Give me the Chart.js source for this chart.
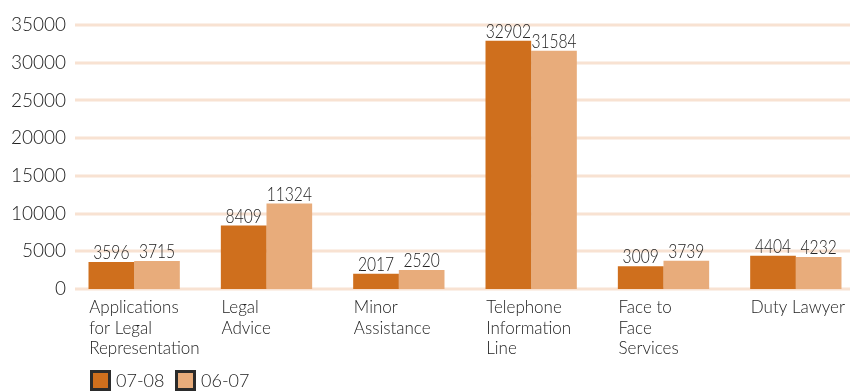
<!DOCTYPE html>
<html>
<head>
<meta charset="utf-8">
<script src="https://cdn.jsdelivr.net/npm/chart.js@4/dist/chart.umd.min.js"></script>
<style>
  html, body { margin: 0; padding: 0; background: #fff; overflow: hidden; }
  #wrap { position: relative; width: 850px; height: 392px; overflow: hidden; }
  canvas { display: block; }
</style>
</head>
<body>
<div id="wrap"><canvas id="servicesChart" width="862" height="392"></canvas></div>
<script>
const categories = [
  ['Applications', 'for Legal', 'Representation'],
  ['Legal', 'Advice'],
  ['Minor', 'Assistance'],
  ['Telephone', 'Information', 'Line'],
  ['Face to', 'Face', 'Services'],
  ['Duty Lawyer']
];
const series0708 = [3596, 8409, 2017, 32902, 3009, 4404];
const series0607 = [3715, 11324, 2520, 31584, 3739, 4232];
const yTicks = [0, 5000, 10000, 15000, 20000, 25000, 30000, 35000];

const textColor = '#222222';
const gridColor = '#f8e2d2';

// peach horizontal rules, starting a little right of the axis labels
const gridRules = {
  id: 'gridRules',
  beforeDatasetsDraw(chart) {
    const { ctx, chartArea, scales } = chart;
    ctx.save();
    ctx.strokeStyle = gridColor;
    ctx.lineWidth = 3;
    yTicks.forEach(v => {
      const y = Math.round(scales.y.getPixelForValue(v));
      ctx.beginPath();
      ctx.moveTo(75, y);
      ctx.lineTo(chartArea.right, y);
      ctx.stroke();
    });
    ctx.restore();
  }
};

// value printed above every bar, slightly narrowed
const barValues = {
  id: 'barValues',
  afterDatasetsDraw(chart) {
    const { ctx } = chart;
    ctx.save();
    ctx.fillStyle = textColor;
    ctx.font = '300 19px Lato';
    ctx.textAlign = 'center';
    ctx.textBaseline = 'alphabetic';
    chart.data.datasets.forEach((ds, i) => {
      chart.getDatasetMeta(i).data.forEach((bar, j) => {
        ctx.save();
        ctx.translate(bar.x, bar.y - 3);
        ctx.scale(0.82, 1);
        ctx.fillText(String(ds.data[j]), 0, 0);
        ctx.restore();
      });
    });
    ctx.restore();
  }
};

// boxed legend in the bottom left corner
const boxLegend = {
  id: 'boxLegend',
  afterDraw(chart) {
    const { ctx } = chart;
    const spots = [90, 175];
    ctx.save();
    ctx.font = '300 18px Lato';
    ctx.textBaseline = 'middle';
    chart.data.datasets.forEach((ds, i) => {
      const x = spots[i];
      ctx.fillStyle = ds.backgroundColor;
      ctx.fillRect(x + 1.5, 371.5, 18, 18);
      ctx.strokeStyle = '#2b2b2b';
      ctx.lineWidth = 3;
      ctx.strokeRect(x + 1.5, 371.5, 18, 18);
      ctx.fillStyle = textColor;
      ctx.fillText(ds.label, x + 26, 381);
    });
    ctx.restore();
  }
};

new Chart(document.getElementById('servicesChart'), {
  type: 'bar',
  data: {
    labels: categories,
    datasets: [
      { label: '07-08', data: series0708, backgroundColor: '#cf6f1d' },
      { label: '06-07', data: series0607, backgroundColor: '#e8ac7b' }
    ]
  },
  options: {
    responsive: false,
    animation: false,
    layout: { padding: { top: 25, right: 0, bottom: 0, left: 0 } },
    datasets: {
      bar: { categoryPercentage: 0.69, barPercentage: 1.0 }
    },
    scales: {
      x: {
        grid: { display: false, drawTicks: false },
        border: { display: false },
        ticks: {
          color: textColor,
          font: { family: 'Lato', weight: '300', size: 17, lineHeight: 1.22 },
          align: 'start',
          labelOffset: -45,
          padding: 8,
          maxRotation: 0,
          autoSkip: false
        },
        afterFit(scale) {
          scale.height = 392 - 289;
          scale.paddingLeft = 0;
          scale.paddingRight = 0;
        }
      },
      y: {
        min: 0,
        max: 35000,
        grid: { display: false, drawTicks: false },
        border: { display: false },
        ticks: {
          stepSize: 5000,
          color: textColor,
          font: { family: 'Lato', weight: '300', size: 19 },
          padding: 2,
          callback: v => String(v)
        },
        afterFit(scale) { scale.width = 68; }
      }
    },
    plugins: {
      legend: { display: false },
      tooltip: { enabled: false }
    }
  },
  plugins: [gridRules, barValues, boxLegend]
});
</script>
</body>
</html>
